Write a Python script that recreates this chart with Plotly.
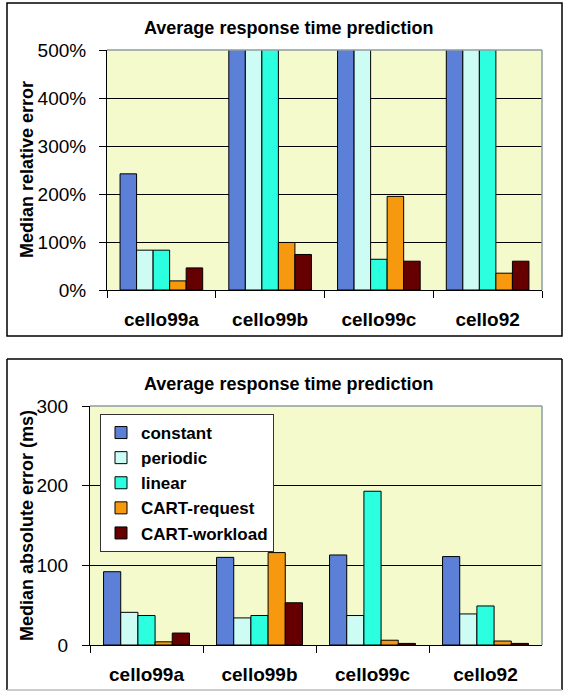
import plotly.graph_objects as go

# ---- data -------------------------------------------------------------
categories = ["cello99a", "cello99b", "cello99c", "cello92"]
methods = ["constant", "periodic", "linear", "CART-request", "CART-workload"]
colors = ["#5C80D8", "#CCFCF4", "#2CFFE0", "#F7990F", "#660000"]

# Median relative error (%) -- bars above 500% run off the top of the axis
rel_constant = [242, 650, 650, 650]
rel_periodic = [83, 650, 650, 650]
rel_linear = [83, 650, 64, 650]
rel_cart_request = [19, 99, 195, 35]
rel_cart_workload = [46, 74, 60, 60]

# Median absolute error (ms)
abs_constant = [92, 110, 113, 111]
abs_periodic = [41, 34, 37, 39]
abs_linear = [37, 37, 193, 49]
abs_cart_request = [4, 116, 6, 5]
abs_cart_workload = [15, 53, 2, 2]

rel_series = [rel_constant, rel_periodic, rel_linear, rel_cart_request, rel_cart_workload]
abs_series = [abs_constant, abs_periodic, abs_linear, abs_cart_request, abs_cart_workload]

rel_ticks = [0, 100, 200, 300, 400, 500]
rel_tick_text = ["0%", "100%", "200%", "300%", "400%", "500%"]
abs_ticks = [0, 100, 200, 300]
abs_tick_text = ["0", "100", "200", "300"]

# ---- layout geometry (pixels) ------------------------------------------
W, H = 564, 691
FONT = "Liberation Sans, Arial, sans-serif"


def px_x(x):
    return x / W


def px_y(y):
    return 1 - y / H


fig = go.Figure()

for name, col, vals in zip(methods, colors, rel_series):
    fig.add_trace(go.Bar(
        x=categories, y=vals, name=name, marker_color=col,
        marker_line=dict(color="black", width=1),
        xaxis="x", yaxis="y", showlegend=False, legendgroup=name,
    ))

for name, col, vals in zip(methods, colors, abs_series):
    fig.add_trace(go.Bar(
        x=categories, y=vals, name=name, marker_color=col,
        marker_line=dict(color="black", width=1),
        xaxis="x2", yaxis="y2", showlegend=True, legendgroup=name,
    ))

axis_common = dict(
    showline=True, linecolor="black", linewidth=1,
    ticks="outside", ticklen=7, tickcolor="black", tickwidth=1,
    automargin=False,
)
cat_font = dict(size=19, family=FONT, weight="bold", color="black")
num_font = dict(size=19, family=FONT, color="black")

fig.update_layout(
    width=W, height=H,
    margin=dict(l=0, r=0, t=0, b=0, autoexpand=False),
    paper_bgcolor="white",
    plot_bgcolor="#F4FACC",
    barmode="group", bargap=0.24, bargroupgap=0,
    font=dict(family=FONT, color="black"),
    xaxis=dict(
        domain=[px_x(107), px_x(542)], anchor="y",
        tickson="boundaries", showgrid=False,
        tickfont=cat_font, ticklabelstandoff=12,
        **axis_common,
    ),
    yaxis=dict(
        domain=[px_y(290), px_y(50)], anchor="x",
        range=[0, 500], tickvals=rel_ticks, ticktext=rel_tick_text,
        showgrid=True, gridcolor="black", gridwidth=1, zeroline=False,
        tickfont=num_font, ticklabelstandoff=9,
        **axis_common,
    ),
    xaxis2=dict(
        domain=[px_x(90), px_x(542)], anchor="y2",
        tickson="boundaries", showgrid=False,
        tickfont=cat_font, ticklabelstandoff=12,
        **axis_common,
    ),
    yaxis2=dict(
        domain=[px_y(645), px_y(406)], anchor="x2",
        range=[0, 300], tickvals=abs_ticks, ticktext=abs_tick_text,
        showgrid=True, gridcolor="black", gridwidth=1, zeroline=False,
        tickfont=num_font, ticklabelstandoff=10,
        **axis_common,
    ),
    legend=dict(
        x=px_x(100), y=px_y(414), xanchor="left", yanchor="top",
        bgcolor="white", bordercolor="#333333", borderwidth=1,
        font=dict(size=17, family=FONT, weight="bold", color="black"),
        itemwidth=30, tracegroupgap=0,
    ),
)

# chart titles and axis titles
title_font = dict(size=18, family=FONT, weight="bold", color="black")
axis_title_font = dict(size=18, family=FONT, weight="bold", color="black")
fig.add_annotation(text="Average response time prediction", x=px_x(288), y=px_y(28),
                   xref="paper", yref="paper", showarrow=False, font=title_font,
                   xanchor="center", yanchor="middle")
fig.add_annotation(text="Average response time prediction", x=px_x(288), y=px_y(384),
                   xref="paper", yref="paper", showarrow=False, font=title_font,
                   xanchor="center", yanchor="middle")
fig.add_annotation(text="Median relative error", x=px_x(27), y=px_y(170),
                   xref="paper", yref="paper", showarrow=False, textangle=-90,
                   font=axis_title_font, xanchor="center", yanchor="middle")
fig.add_annotation(text="Median absolute error (ms)", x=px_x(27), y=px_y(526),
                   xref="paper", yref="paper", showarrow=False, textangle=-90,
                   font=axis_title_font, xanchor="center", yanchor="middle")

# grey top/right edges of each plot area
edge = dict(color="#8C9CA2", width=1.5)
for xr, yr in (("x", "y"), ("x2", "y2")):
    fig.add_shape(type="line", xref=f"{xr} domain", yref=f"{yr} domain",
                  x0=0, x1=1, y0=1, y1=1, line=edge, layer="above")
    fig.add_shape(type="line", xref=f"{xr} domain", yref=f"{yr} domain",
                  x0=1, x1=1, y0=0, y1=1, line=edge, layer="above")

# outer frames around the two panels
frame = dict(color="black", width=1.5)
fig.add_shape(type="rect", xref="paper", yref="paper",
              x0=px_x(7), x1=px_x(562), y0=px_y(336), y1=px_y(3), line=frame)
for x0, y0, x1, y1, ln in (
    (7, 359, 562, 359, frame),
    (7, 359, 7, 690, frame),
    (562, 359, 562, 690, frame),
    (7, 690, 562, 690, dict(color="#BBBBBB", width=1.5)),
):
    fig.add_shape(type="line", xref="paper", yref="paper",
                  x0=px_x(x0), x1=px_x(x1), y0=px_y(y0), y1=px_y(y1), line=ln)

fig.write_html("out.html")
